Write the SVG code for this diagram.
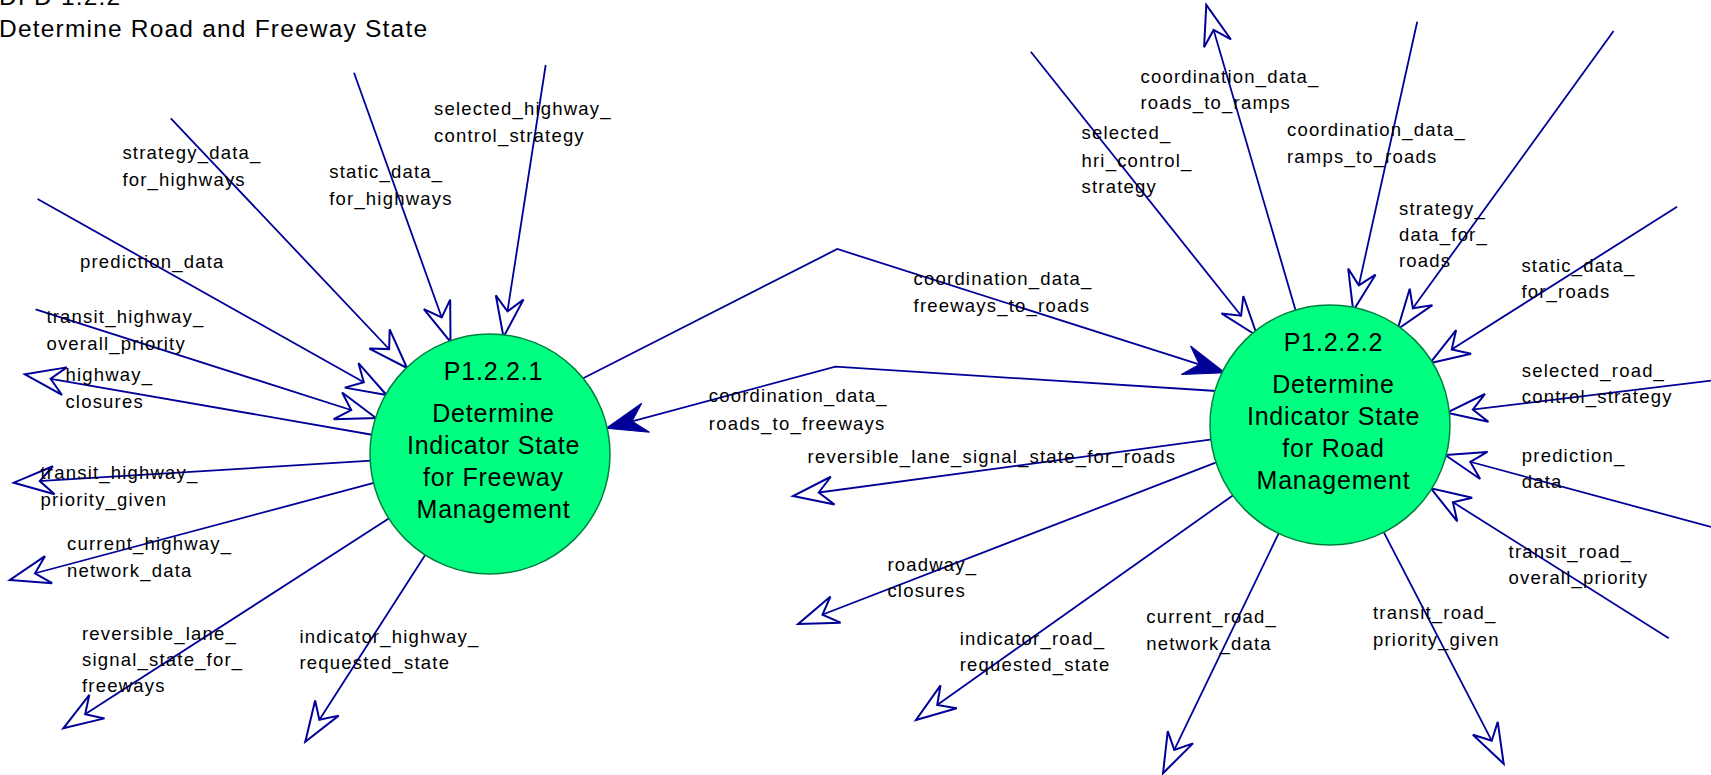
<svg xmlns="http://www.w3.org/2000/svg" width="1711" height="775" viewBox="0 0 1711 775">
<style>
text { font-family: "Liberation Sans", Arial, Helvetica, sans-serif; fill: #000; }
.ttl { font-size: 24.5px; letter-spacing: 1.2px; }
.lbl { font-size: 18.5px; letter-spacing: 1.2px; }
.nd { font-size: 25px; letter-spacing: 0.8px; text-anchor: middle; }
.ln { fill: none; stroke: #000099; stroke-width: 1.8; }
.op { marker-end: url(#open); }
.sd { marker-end: url(#solid); }
.bub { fill: #00ff80; stroke: #008040; stroke-width: 1.5; }
</style>
<defs>
<marker id="open" markerUnits="userSpaceOnUse" orient="auto" overflow="visible" markerWidth="1" markerHeight="1" refX="0" refY="0">
<path d="M0,0 L-40,-14 L-26,0 L-40,14 Z" fill="#ffffff" stroke="#000099" stroke-width="2"/>
</marker>
<marker id="solid" markerUnits="userSpaceOnUse" orient="auto" overflow="visible" markerWidth="1" markerHeight="1" refX="0" refY="0">
<path d="M0,0 L-41,-15 L-27,0 L-41,15 Z" fill="#000099" stroke="#000099" stroke-width="1"/>
</marker>
</defs>
<rect width="1711" height="775" fill="#ffffff"/>
<g id="title">
<text class="ttl" x="-1" y="5">DFD 1.2.2</text>
<text class="ttl" x="-1" y="37">Determine Road and Freeway State</text>
</g>
<g id="connectors">
<path class="ln op" d="M354,72.7 L450.5,342"/>
<path class="ln op" d="M545.7,65 L503.5,337"/>
<path class="ln op" d="M170.8,118.3 L407,368"/>
<path class="ln op" d="M37.6,199 L386.5,395"/>
<path class="ln op" d="M35.6,309.3 L376,418"/>
<path class="ln op" d="M373.5,435 L25,374.3"/>
<path class="ln op" d="M371.7,460.7 L13.8,482.7"/>
<path class="ln op" d="M374.8,482.7 L9.9,580"/>
<path class="ln op" d="M390.7,517.3 L63.3,728.3"/>
<path class="ln op" d="M426.3,553.3 L305.3,741.7"/>
<path class="ln sd" d="M583.2,378.3 L837.3,249 L1225,372.7"/>
<path class="ln sd" d="M1216.5,391 L835.4,366.7 L606,428.3"/>
<path class="ln op" d="M1030.8,51.7 L1257.3,336"/>
<path class="ln op" d="M1417.2,21.7 L1353.2,310.7"/>
<path class="ln op" d="M1613.6,31 L1397.6,329.3"/>
<path class="ln op" d="M1677.1,206.7 L1429.8,363.3"/>
<path class="ln op" d="M1711,380.7 L1447,412.7"/>
<path class="ln op" d="M1711,527 L1445.2,455"/>
<path class="ln op" d="M1668.8,638.3 L1430.9,488.3"/>
<path class="ln op" d="M1296,311.7 L1206.3,5"/>
<path class="ln op" d="M1384,532.7 L1503.7,763.8"/>
<path class="ln op" d="M1279,532.7 L1163,773.3"/>
<path class="ln op" d="M1233.5,495 L916,720"/>
<path class="ln op" d="M1215.6,462.7 L798.2,624"/>
<path class="ln op" d="M1212,439.3 L793,496"/>
</g>
<g id="node-P1.2.2.1">
<circle class="bub" cx="490" cy="454" r="120"/>
<text class="nd" x="493.5" y="380">P1.2.2.1</text>
<text class="nd" x="493.5" y="421.5">Determine</text>
<text class="nd" x="493.5" y="454">Indicator State</text>
<text class="nd" x="493.5" y="485.5">for Freeway</text>
<text class="nd" x="493.5" y="517.5">Management</text>
</g>
<g id="node-P1.2.2.2">
<circle class="bub" cx="1330" cy="425" r="120"/>
<text class="nd" x="1333.5" y="351">P1.2.2.2</text>
<text class="nd" x="1333.5" y="392.5">Determine</text>
<text class="nd" x="1333.5" y="425">Indicator State</text>
<text class="nd" x="1333.5" y="456.5">for Road</text>
<text class="nd" x="1333.5" y="488.5">Management</text>
</g>
<g id="labels">
<text class="lbl" x="434" y="115.3">selected_highway_<tspan x="434" y="142.3">control_strategy</tspan></text>
<text class="lbl" x="122.4" y="159.3">strategy_data_<tspan x="122.4" y="186">for_highways</tspan></text>
<text class="lbl" x="329.2" y="178">static_data_<tspan x="329.2" y="205">for_highways</tspan></text>
<text class="lbl" x="80" y="268">prediction_data</text>
<text class="lbl" x="46.4" y="322.7">transit_highway_<tspan x="46.4" y="349.5">overall_priority</tspan></text>
<text class="lbl" x="65.4" y="381">highway_<tspan x="65.4" y="408.3">closures</tspan></text>
<text class="lbl" x="40.5" y="479.3">transit_highway_<tspan x="40.5" y="506">priority_given</tspan></text>
<text class="lbl" x="67" y="550">current_highway_<tspan x="67" y="576.7">network_data</tspan></text>
<text class="lbl" x="82" y="640">reversible_lane_<tspan x="82" y="666">signal_state_for_</tspan><tspan x="82" y="691.7">freeways</tspan></text>
<text class="lbl" x="299.5" y="643.3">indicator_highway_<tspan x="299.5" y="669.3">requested_state</tspan></text>
<text class="lbl" x="913.6" y="285">coordination_data_<tspan x="913.6" y="311.7">freeways_to_roads</tspan></text>
<text class="lbl" x="708.8" y="402.3">coordination_data_<tspan x="708.8" y="430">roads_to_freeways</tspan></text>
<text class="lbl" x="807.6" y="463.3">reversible_lane_signal_state_for_roads</text>
<text class="lbl" x="887.4" y="570.7">roadway_<tspan x="887.4" y="597.3">closures</tspan></text>
<text class="lbl" x="959.7" y="645">indicator_road_<tspan x="959.7" y="670.7">requested_state</tspan></text>
<text class="lbl" x="1146.3" y="623.3">current_road_<tspan x="1146.3" y="650">network_data</tspan></text>
<text class="lbl" x="1373" y="619.3">transit_road_<tspan x="1373" y="646">priority_given</tspan></text>
<text class="lbl" x="1508.6" y="558.3">transit_road_<tspan x="1508.6" y="584.3">overall_priority</tspan></text>
<text class="lbl" x="1521.8" y="461.7">prediction_<tspan x="1521.8" y="488.3">data</tspan></text>
<text class="lbl" x="1521.8" y="376.7">selected_road_<tspan x="1521.8" y="403.3">control_strategy</tspan></text>
<text class="lbl" x="1521.4" y="271.7">static_data_<tspan x="1521.4" y="297.7">for_roads</tspan></text>
<text class="lbl" x="1399" y="215">strategy_<tspan x="1399" y="240.7">data_for_</tspan><tspan x="1399" y="266.7">roads</tspan></text>
<text class="lbl" x="1287" y="136">coordination_data_<tspan x="1287" y="162.7">ramps_to_roads</tspan></text>
<text class="lbl" x="1081.5" y="139.3">selected_<tspan x="1081.5" y="166.7">hri_control_</tspan><tspan x="1081.5" y="193.3">strategy</tspan></text>
<text class="lbl" x="1140.5" y="82.7">coordination_data_<tspan x="1140.5" y="109.3">roads_to_ramps</tspan></text>
</g>
</svg>
